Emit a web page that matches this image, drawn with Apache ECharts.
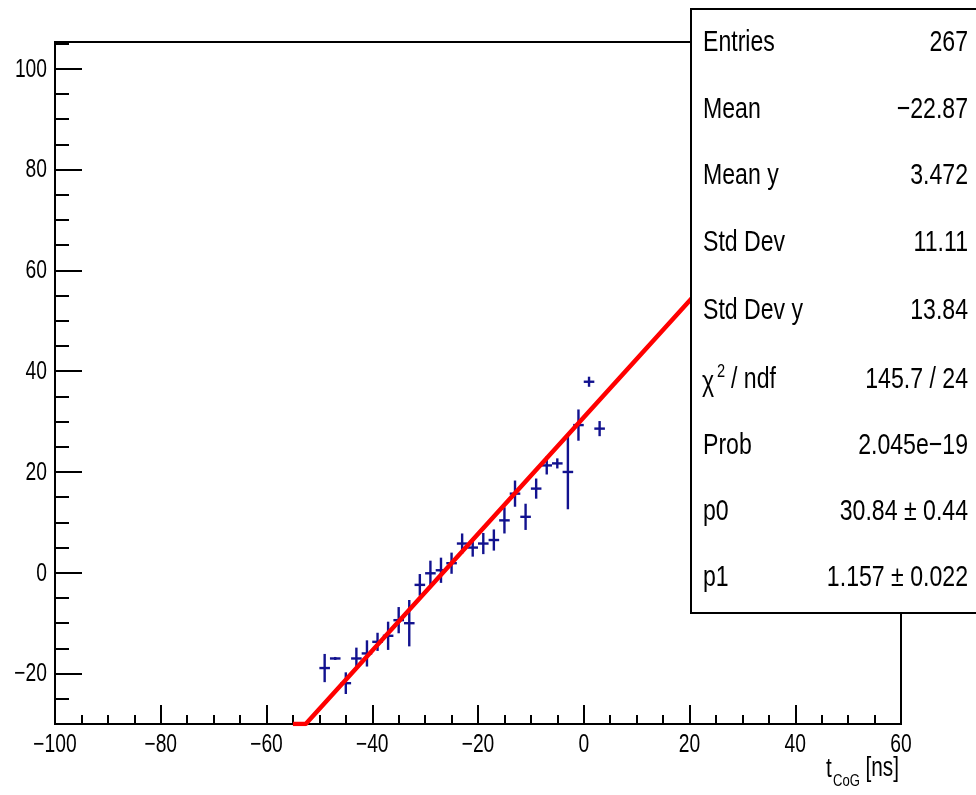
<!DOCTYPE html>
<html>
<head>
<meta charset="utf-8">
<script src="https://cdn.jsdelivr.net/npm/echarts@6/dist/echarts.min.js"></script>
<style>
  html, body { margin: 0; padding: 0; background: #fff; }
  #chart { width: 976px; height: 795px; }
</style>
</head>
<body>
<div id="chart"></div>
<script>
// Profile of y versus t_CoG: bin centres, bin means and errors on the mean
const binCenters = [-49, -47, -45, -43, -41, -39, -37, -35, -33, -31, -29, -27, -25, -23,
                    -21, -19, -17, -15, -13, -11, -9, -7, -5, -3, -1, 1, 3];
const binMeans   = [-18.9, -17.0, -21.9, -17.0, -16.0, -13.7, -12.5, -9.4, -10.0, -2.4, -0.1, 0.5, 1.9, 5.8,
                    5.0, 5.8, 6.5, 10.4, 15.7, 11.1, 16.7, 21.3, 21.7, 20.0, 29.3, 37.9, 28.6];
const binErrors  = [2.8, 0.3, 2.15, 2.15, 2.6, 1.8, 2.8, 2.6, 4.6, 2.15, 2.5, 2.5, 2.1, 2.0,
                    1.8, 2.1, 2.1, 2.6, 2.6, 2.6, 2.0, 1.8, 1.0, 7.4, 3.1, 1.0, 1.5];
const binHalfWidth = 1;

// Linear fit pol1: y = p0 + p1 * x
const p0 = 30.84;
const p1 = 1.157;
const fitRange = [-55, 60];

// Axis ranges and ticks
const xMin = -100, xMax = 60;
const yMin = -30, yMax = 105.3;
const xMajorTicks = [-100, -80, -60, -40, -20, 0, 20, 40, 60];
const xMinorTicks = [-95, -90, -85, -75, -70, -65, -55, -50, -45, -35, -30, -25, -15, -10, -5,
                     5, 10, 15, 25, 30, 35, 45, 50, 55];
const yMajorTicks = [-20, 0, 20, 40, 60, 80, 100];
const yMinorTicks = [-25, -15, -10, -5, 5, 10, 15, 25, 30, 35, 45, 50, 55, 65, 70, 75, 85, 90, 95, 105];

// Statistics box rows
const statNames  = ['Entries', 'Mean', 'Mean y', 'Std Dev', 'Std Dev y', '', 'Prob', 'p0', 'p1'];
const statValues = ['267', '\u221222.87', '3.472', '11.11', '13.84', '145.7 / 24', '2.045e\u221219',
                    '30.84 \u00b1 0.44', '1.157 \u00b1 0.022'];

const FONT = '"Liberation Sans", Helvetica, Arial, sans-serif';
const NARROW = 0.77;          // horizontal squeeze giving the tall, narrow Helvetica look
const INK = '#000';
const MARKER = '#12128f';

const fmt = v => String(v).replace('-', '\u2212');

// Fit curve, held at the frame floor where it dips below the y range
const fitX = [fitRange[0], (yMin - p0) / p1, fitRange[1]];
const fitData = fitX.map(x => [x, Math.max(yMin, p0 + p1 * x)]);

const profileData = binCenters.map((x, i) => [x, binMeans[i], binErrors[i]]);

function renderErrorCross(params, api) {
  const x = api.value(0), y = api.value(1), e = api.value(2);
  const c = api.coord([x, y]);
  const l = api.coord([x - binHalfWidth, y]);
  const r = api.coord([x + binHalfWidth, y]);
  const t = api.coord([x, y + e]);
  const b = api.coord([x, y - e]);
  const style = { stroke: MARKER, lineWidth: 2.4 };
  return {
    type: 'group',
    children: [
      { type: 'line', shape: { x1: l[0], y1: c[1], x2: r[0], y2: c[1] }, style },
      { type: 'line', shape: { x1: c[0], y1: t[1], x2: c[0], y2: b[1] }, style }
    ]
  };
}

function axisPair(dim, min, max, majors, minors, majorLen, minorLen) {
  const common = { type: 'value', min, max, position: dim === 'x' ? 'bottom' : 'left', offset: 0,
                   splitLine: { show: false }, axisLabel: { show: false } };
  return [
    Object.assign({}, common, {
      axisLine: { show: true, onZero: false, lineStyle: { color: INK, width: 2 } },
      axisTick: { show: true, inside: true, length: majorLen, customValues: majors,
                  lineStyle: { color: INK, width: 2 } }
    }),
    Object.assign({}, common, {
      axisLine: { show: false, onZero: false },
      axisTick: { show: true, inside: true, length: minorLen, customValues: minors,
                  lineStyle: { color: INK, width: 2 } }
    })
  ];
}

function txt(text, x, y, size, align, z) {
  return { type: 'text', z: z || 101, x, y, scaleX: NARROW,
           style: { text, fill: INK, font: size + 'px ' + FONT, textAlign: align, textVerticalAlign: 'middle' } };
}

// Statistics panel
const graphics = [{
  type: 'rect', z: 100,
  shape: { x: 691, y: 9, width: 310, height: 604 },
  style: { fill: '#fff', stroke: INK, lineWidth: 2 }
}];
const rowY = [43, 110, 176, 243, 311, 380, 446, 512, 578];
statNames.forEach((name, i) => {
  if (name) graphics.push(txt(name, 703, rowY[i], 30, 'left'));
  graphics.push(txt(statValues[i], 968, rowY[i], 30, 'right'));
});
// chi-square label with superscript
graphics.push(
  txt('\u03c7', 702, rowY[5] + 3, 30, 'left'),
  txt('2', 717, rowY[5] - 8, 19, 'left'),
  txt('/ ndf', 731, rowY[5], 30, 'left')
);
// x-axis title t_CoG [ns]
graphics.push(
  txt('t', 826, 770, 27, 'left'),
  txt('CoG', 833, 781, 17, 'left'),
  txt('[ns]', 899, 769, 27, 'right')
);

const chart = echarts.init(document.getElementById('chart'), null, { renderer: 'canvas' });
chart.setOption({
  animation: false,
  backgroundColor: '#fff',
  grid: { left: 55, top: 42, width: 846, height: 682, show: true,
          borderColor: INK, borderWidth: 2, backgroundColor: '#fff', containLabel: false },
  xAxis: axisPair('x', xMin, xMax, xMajorTicks, xMinorTicks, 19, 9),
  yAxis: axisPair('y', yMin, yMax, yMajorTicks, yMinorTicks, 27, 14),
  graphic: { elements: graphics },
  series: [
    {
      type: 'custom', name: 'profile', xAxisIndex: 0, yAxisIndex: 0,
      renderItem: renderErrorCross, data: profileData, clip: true, z: 5
    },
    {
      type: 'line', name: 'pol1', xAxisIndex: 0, yAxisIndex: 0,
      data: fitData, showSymbol: false, clip: true, z: 6,
      lineStyle: { color: '#ff0000', width: 4.5 }
    }
  ]
});

// Tick labels placed through the axes' own scales, drawn narrow like the stats text
const axisY0 = chart.convertToPixel({ yAxisIndex: 0 }, yMin);
const axisX0 = chart.convertToPixel({ xAxisIndex: 0 }, xMin);
const tickLabels = [];
xMajorTicks.forEach(v => {
  tickLabels.push(txt(fmt(v), chart.convertToPixel({ xAxisIndex: 0 }, v), axisY0 + 21, 25, 'center', 50));
});
yMajorTicks.forEach(v => {
  tickLabels.push(txt(fmt(v), axisX0 - 8, chart.convertToPixel({ yAxisIndex: 0 }, v) + 1, 25, 'right', 50));
});
chart.setOption({ graphic: { elements: graphics.concat(tickLabels) } });
</script>
</body>
</html>
